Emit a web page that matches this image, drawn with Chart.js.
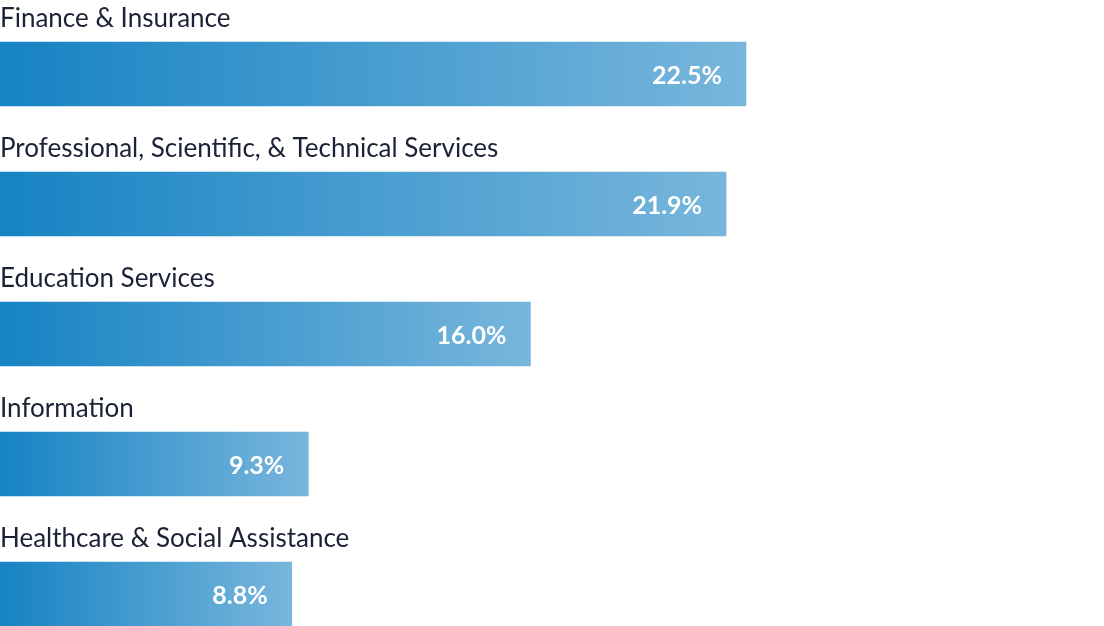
<!DOCTYPE html>
<html>
<head>
<meta charset="utf-8">
<script src="https://cdn.jsdelivr.net/npm/chart.js@4/dist/chart.umd.min.js"></script>
<style>
  html, body { margin: 0; padding: 0; background: #fff; }
  #wrap { width: 1104px; height: 626px; }
</style>
</head>
<body>
<div id="wrap"><canvas id="myChart"></canvas></div>
<script>
// industries and their shares
const categories = [
    'Finance & Insurance',
    'Professional, Scientific, & Technical Services',
    'Education Services',
    'Information',
    'Healthcare & Social Assistance'
];
const shares = [22.5, 21.9, 16.0, 9.3, 8.8];

// draws category name above each bar and the value inside its right end
const barText = {
    id: 'barText',
    afterDatasetsDraw(chart) {
        const ctx = chart.ctx;
        const meta = chart.getDatasetMeta(0);
        ctx.save();
        meta.data.forEach((bar, i) => {
            ctx.fillStyle = '#1b2236';
            ctx.font = '26px Lato';
            ctx.textAlign = 'left';
            ctx.textBaseline = 'middle';
            ctx.fillText(categories[i], 0, bar.y - 55);

            ctx.fillStyle = '#ffffff';
            ctx.font = 'bold 25px Lato';
            ctx.textAlign = 'right';
            ctx.fillText(shares[i].toFixed(1) + '%', bar.x - 24, bar.y + 2);
        });
        ctx.restore();
    }
};

const ctx = document.getElementById('myChart').getContext('2d');

new Chart(ctx, {
    type: 'bar',
    data: {
        labels: categories,
        datasets: [{
            data: shares,
            barThickness: 64,
            clip: false,
            backgroundColor: function(context) {
                const chart = context.chart;
                if (!chart.chartArea) return '#3d97cc';
                const end = chart.scales.x.getPixelForValue(context.raw);
                const g = chart.ctx.createLinearGradient(0, 0, end, 0);
                g.addColorStop(0, '#1683c3');
                g.addColorStop(1, '#78b6dc');
                return g;
            }
        }]
    },
    options: {
        indexAxis: 'y',
        responsive: true,
        maintainAspectRatio: false,
        animation: false,
        layout: { padding: { top: 74, bottom: 32, left: 0, right: 0 } },
        plugins: { legend: { display: false }, tooltip: { enabled: false } },
        scales: {
            x: { display: false, min: 0, max: 33.3 },
            y: { display: false, offset: false }
        }
    },
    plugins: [barText]
});
</script>
</body>
</html>
